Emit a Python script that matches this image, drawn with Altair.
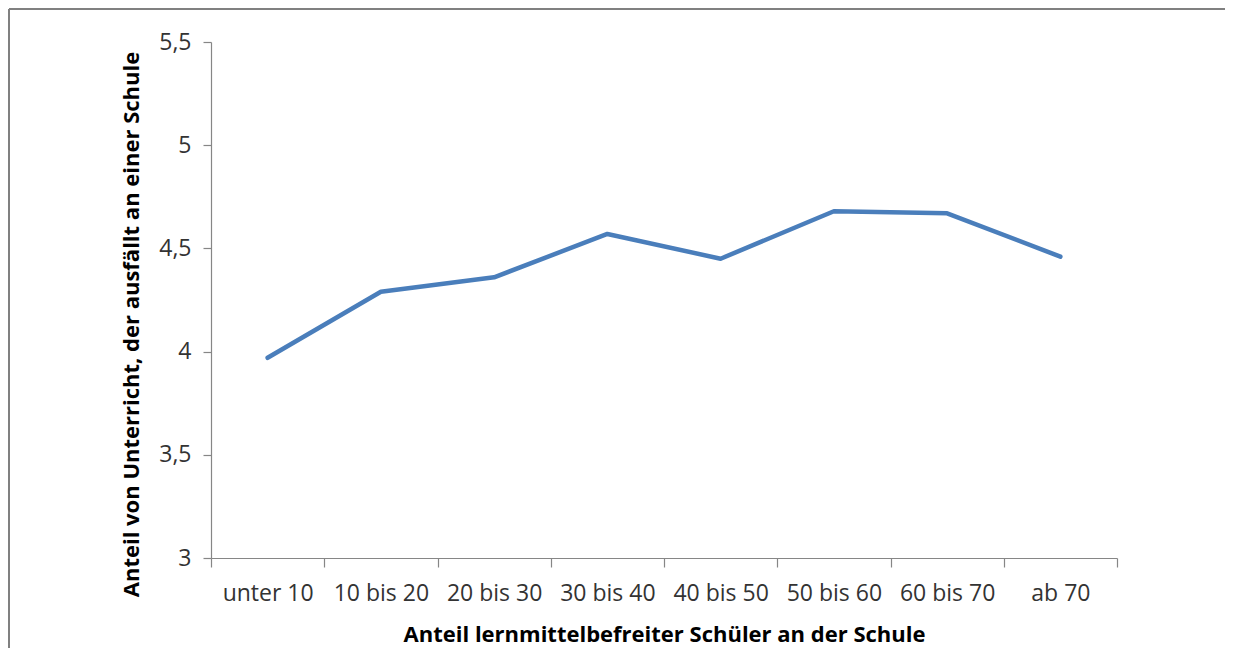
import altair as alt
import pandas as pd

categories = ["unter 10", "10 bis 20", "20 bis 30", "30 bis 40", "40 bis 50", "50 bis 60", "60 bis 70", "ab 70"]
values = [3.97, 4.29, 4.36, 4.57, 4.45, 4.68, 4.67, 4.46]
y_ticks = [3, 3.5, 4, 4.5, 5, 5.5]

df = pd.DataFrame({"kat": categories, "wert": values})

W, H = 906, 516
PL, PT, PR, PB = 203, 34, 108, 90
FONT = "Open Sans"

line = alt.Chart(df).mark_line(color="#4A7EBB", strokeWidth=4.5, strokeCap="round", strokeJoin="round").encode(
    x=alt.X("kat:N", sort=categories,
            scale=alt.Scale(type="band", paddingInner=0, paddingOuter=0),
            axis=alt.Axis(title="Anteil lernmittelbefreiter Schüler an der Schule",
                          labelAngle=0, tickBand="extent", tickSize=9, labelPadding=15,
                          titleY=76, titleBaseline="middle", titleAlign="center")),
    y=alt.Y("wert:Q", scale=alt.Scale(domain=[3, 5.5], nice=False, zero=False),
            axis=alt.Axis(title="Anteil von Unterricht, der ausfällt an einer Schule",
                          values=y_ticks, tickSize=8, labelPadding=12, grid=False,
                          labelExpr="replace(toString(datum.value), '.', ',')",
                          titleX=-80, titleY=282, titleAngle=-90,
                          titleBaseline="middle", titleAlign="center")),
)

frame_data = alt.Data(values=[{}])
top_rule = alt.Chart(frame_data).mark_rule(color="#808080", strokeWidth=2).encode(
    x=alt.value(-PL + 1), x2=alt.value(W + PR + 20), y=alt.value(-PT + 1))
left_rule = alt.Chart(frame_data).mark_rule(color="#808080", strokeWidth=2).encode(
    x=alt.value(-PL + 1), y=alt.value(-PT + 1), y2=alt.value(H + PB + 20))

chart = alt.layer(line, top_rule, left_rule).properties(
    width=W, height=H,
    autosize=alt.AutoSizeParams(type="none"),
    padding={"left": PL, "top": PT, "right": PR, "bottom": PB},
    background="white",
).configure_view(stroke=None).configure_axis(
    domainColor="#868686", tickColor="#868686", domainWidth=1.2, tickWidth=1.2,
    labelFont=FONT, labelFontSize=23, labelColor="#333333",
    titleFont=FONT, titleFontSize=22, titleFontWeight="bold", titleColor="#000000",
)

chart.save("out.html", embed_options={"renderer": "svg", "actions": False})
